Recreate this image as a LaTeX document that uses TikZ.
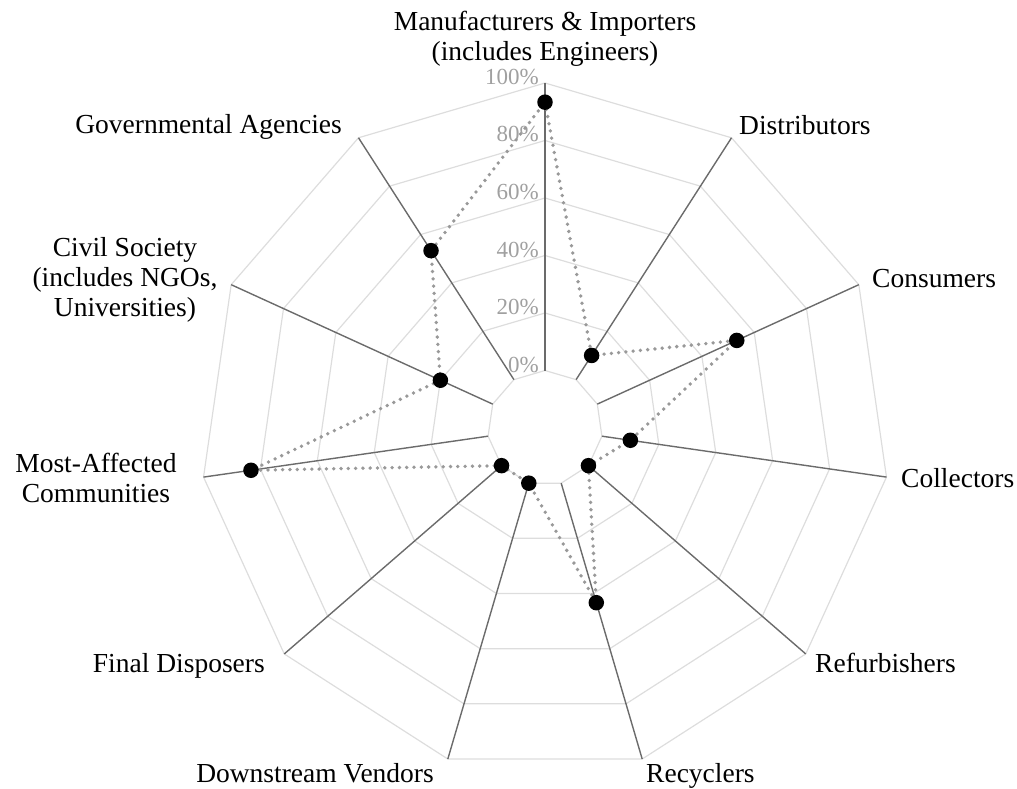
\documentclass[tikz,border=0pt]{standalone}
\usepackage{fontspec}
\setmainfont{Liberation Serif}
\definecolor{gridc}{HTML}{DDDDDD}
\definecolor{axisc}{HTML}{6B6B6B}
\definecolor{pctc}{HTML}{A0A0A0}
\definecolor{datac}{HTML}{999999}
\begin{document}
\begin{tikzpicture}[x=1pt,y=-1pt,
  grid/.style={draw=gridc, line width=1.2pt},
  axisline/.style={draw=axisc, line width=1.4pt},
  pct/.style={text=pctc, font=\fontsize{23}{23}\selectfont, inner sep=0pt, anchor=base east},
  lab/.style={font=\fontsize{27.5}{30}\selectfont, inner sep=0pt, align=center},
  datadot/.style={circle, fill=black, minimum size=15.5pt, inner sep=0pt},
  dataline/.style={draw=datac, line width=3.8pt, line cap=round, dash pattern=on 0pt off 7.3pt}]
\useasboundingbox (0,0) rectangle (1017,789);
\def\cx{545}\def\cy{428}
% grid polygons
\foreach \k in {0,...,5}{
  \pgfmathsetmacro\rr{57.5*(1+\k)}
  \draw[grid] ({\cx+\rr*cos(90)},{\cy-\rr*sin(90)})
    \foreach \i in {1,...,10}{ -- ({\cx+\rr*cos(90-\i*360/11)},{\cy-\rr*sin(90-\i*360/11)})} -- cycle;
}
% axes
\foreach \i in {0,...,10}{
  \coordinate (in\i) at ({\cx+57.5*cos(90-\i*360/11)},{\cy-57.5*sin(90-\i*360/11)});
  \coordinate (out\i) at ({\cx+345*cos(90-\i*360/11)},{\cy-345*sin(90-\i*360/11)});
  \draw[axisline] (in\i) -- (out\i);
}
% percentage labels
\foreach \k in {0,...,5}{
  \pgfmathsetmacro\yy{\cy-57.5*(1+\k)+1.5}
  \pgfmathtruncatemacro\pp{20*\k}
  \node[pct] (pct\k) at (539,\yy) {\pp\%};
}
% data
\foreach \i/\v in {0/93.33,1/10,2/53.33,3/10,4/0,5/43.33,6/0,7/0,8/83.33,9/20,10/53.33}{
  \pgfmathsetmacro\rr{57.5*(1+\v/20)}
  \coordinate (d\i) at ({\cx+\rr*cos(90-\i*360/11)},{\cy-\rr*sin(90-\i*360/11)});
}
\draw[dataline] (d0) -- (d1) -- (d2) -- (d3) -- (d4) -- (d5) -- (d6) -- (d7) -- (d8) -- (d9) -- (d10) -- cycle;
\foreach \i in {0,...,10}{ \node[datadot] (p\i) at (d\i) {}; }
% category labels
\node[lab, anchor=north] (l0) at (545,11.2) {Manufacturers \& Importers\\(includes Engineers)};
\node[lab, anchor=base west] (l1) at (739,135) {Distributors};
\node[lab, anchor=base west] (l2) at (872,287) {Consumers};
\node[lab, anchor=base west] (l3) at (901,487) {Collectors};
\node[lab, anchor=base west] (l4) at (815,672) {Refurbishers};
\node[lab, anchor=base west] (l5) at (646,782) {Recyclers};
\node[lab, anchor=base east] (l6) at (434,782) {Downstream Vendors};
\node[lab, anchor=base east] (l7) at (265,672) {Final Disposers};
\node[lab, anchor=north] (l8) at (96,453) {Most-Affected\\Communities};
\node[lab, anchor=north] (l9) at (125,237.2) {Civil Society\\(includes NGOs,\\Universities)};
\node[lab, anchor=base east] (l10) at (342,134) {Governmental Agencies};
\end{tikzpicture}
\end{document}
